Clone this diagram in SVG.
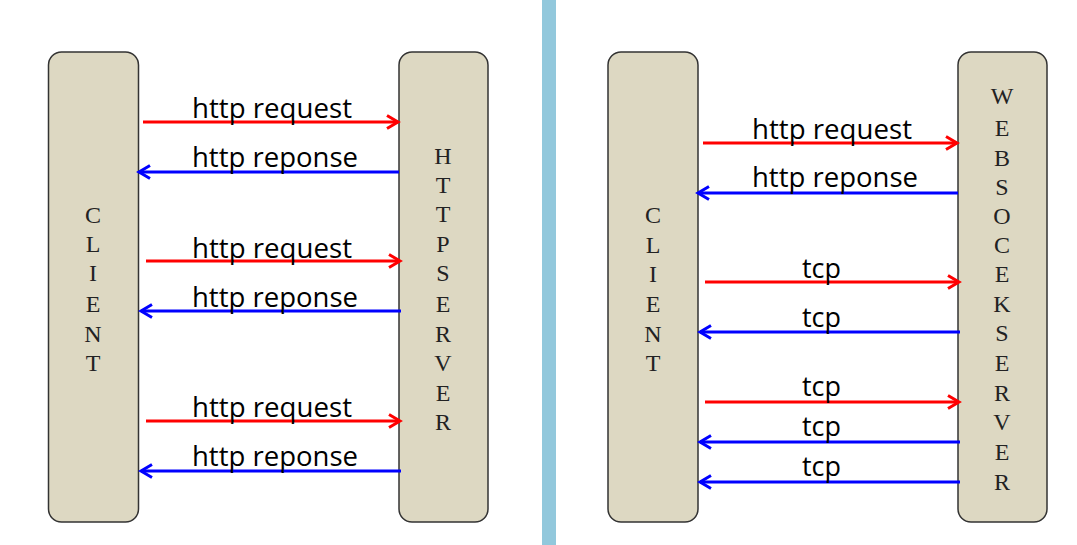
<svg xmlns="http://www.w3.org/2000/svg" width="1077" height="545" viewBox="0 0 1077 545">
<style>
.box{fill:#DDD8C2;stroke:#333;stroke-width:1.5}
.v{font-family:"Liberation Serif",serif;font-size:24px;fill:#222;text-anchor:middle}
.lbl{font-family:"Open Sans","Noto Sans",sans-serif;font-size:27px;fill:#000}
.req{stroke:#FF0000;stroke-width:3;fill:none;marker-end:url(#ar)}
.rsp{stroke:#0000FF;stroke-width:3;fill:none;marker-end:url(#ab)}
</style>
<defs>
<marker id="ar" viewBox="0 0 16 16" refX="13" refY="8" markerWidth="16" markerHeight="16" markerUnits="userSpaceOnUse" orient="auto">
<path d="M2,1.5 L13,8 L2,14.5" fill="none" stroke="#FF0000" stroke-width="3"/>
</marker>
<marker id="ab" viewBox="0 0 16 16" refX="13" refY="8" markerWidth="16" markerHeight="16" markerUnits="userSpaceOnUse" orient="auto">
<path d="M2,1.5 L13,8 L2,14.5" fill="none" stroke="#0000FF" stroke-width="3"/>
</marker>
</defs>
<rect x="0" y="0" width="1077" height="545" fill="#fff"/>
<rect id="divider" x="542" y="0" width="14" height="545" fill="#92C8DC"/>

<g id="client-left">
<rect class="box" x="48.5" y="52" width="90" height="470" rx="13"/>
<text class="v" x="93" y="223">C</text>
<text class="v" x="93" y="252">L</text>
<text class="v" x="93" y="281">I</text>
<text class="v" x="93" y="312">E</text>
<text class="v" x="93" y="342">N</text>
<text class="v" x="93" y="371">T</text>
</g>
<g id="httpserver">
<rect class="box" x="399" y="52" width="89" height="470" rx="13"/>
<text class="v" x="443" y="164">H</text>
<text class="v" x="443" y="193">T</text>
<text class="v" x="443" y="222">T</text>
<text class="v" x="443" y="252">P</text>
<text class="v" x="443" y="281">S</text>
<text class="v" x="443" y="312">E</text>
<text class="v" x="443" y="342">R</text>
<text class="v" x="443" y="371">V</text>
<text class="v" x="443" y="401">E</text>
<text class="v" x="443" y="430">R</text>
</g>
<g id="client-right">
<rect class="box" x="608" y="52" width="90" height="470" rx="13"/>
<text class="v" x="653" y="223">C</text>
<text class="v" x="653" y="253">L</text>
<text class="v" x="653" y="282">I</text>
<text class="v" x="653" y="312">E</text>
<text class="v" x="653" y="342">N</text>
<text class="v" x="653" y="371">T</text>
</g>
<g id="websocketserver">
<rect class="box" x="958" y="52" width="89" height="470" rx="13"/>
<text class="v" x="1002" y="104">W</text>
<text class="v" x="1002" y="136">E</text>
<text class="v" x="1002" y="166">B</text>
<text class="v" x="1002" y="195">S</text>
<text class="v" x="1002" y="224">O</text>
<text class="v" x="1002" y="253">C</text>
<text class="v" x="1002" y="282">E</text>
<text class="v" x="1002" y="312">K</text>
<text class="v" x="1002" y="341">S</text>
<text class="v" x="1002" y="371">E</text>
<text class="v" x="1002" y="401">R</text>
<text class="v" x="1002" y="430">V</text>
<text class="v" x="1002" y="460">E</text>
<text class="v" x="1002" y="490">R</text>
</g>

<g id="connectors">
<line class="req" x1="143" y1="122" x2="398" y2="122"/>
<line class="rsp" x1="399" y1="172" x2="139" y2="172"/>
<line class="req" x1="146" y1="261" x2="400" y2="261"/>
<line class="rsp" x1="401" y1="311" x2="141" y2="311"/>
<line class="req" x1="146" y1="421" x2="400" y2="421"/>
<line class="rsp" x1="401" y1="471" x2="141" y2="471"/>

<line class="req" x1="703" y1="143" x2="957" y2="143"/>
<line class="rsp" x1="958" y1="193" x2="698" y2="193"/>
<line class="req" x1="705" y1="282" x2="959" y2="282"/>
<line class="rsp" x1="960" y1="332" x2="700" y2="332"/>
<line class="req" x1="705" y1="402" x2="959" y2="402"/>
<line class="rsp" x1="960" y1="442" x2="700" y2="442"/>
<line class="rsp" x1="960" y1="482" x2="700" y2="482"/>
</g>

<g id="labels">
<text class="lbl" x="192" y="118" textLength="160" lengthAdjust="spacingAndGlyphs">http request</text>
<text class="lbl" x="192" y="167" textLength="166" lengthAdjust="spacingAndGlyphs">http reponse</text>
<text class="lbl" x="192" y="258" textLength="160" lengthAdjust="spacingAndGlyphs">http request</text>
<text class="lbl" x="192" y="307" textLength="166" lengthAdjust="spacingAndGlyphs">http reponse</text>
<text class="lbl" x="192" y="417" textLength="160" lengthAdjust="spacingAndGlyphs">http request</text>
<text class="lbl" x="192" y="466" textLength="166" lengthAdjust="spacingAndGlyphs">http reponse</text>

<text class="lbl" x="752" y="139" textLength="160" lengthAdjust="spacingAndGlyphs">http request</text>
<text class="lbl" x="752" y="187" textLength="166" lengthAdjust="spacingAndGlyphs">http reponse</text>
<text class="lbl" x="802" y="278" textLength="39" lengthAdjust="spacingAndGlyphs">tcp</text>
<text class="lbl" x="802" y="327" textLength="39" lengthAdjust="spacingAndGlyphs">tcp</text>
<text class="lbl" x="802" y="396" textLength="39" lengthAdjust="spacingAndGlyphs">tcp</text>
<text class="lbl" x="802" y="436" textLength="39" lengthAdjust="spacingAndGlyphs">tcp</text>
<text class="lbl" x="802" y="476" textLength="39" lengthAdjust="spacingAndGlyphs">tcp</text>
</g>
</svg>
